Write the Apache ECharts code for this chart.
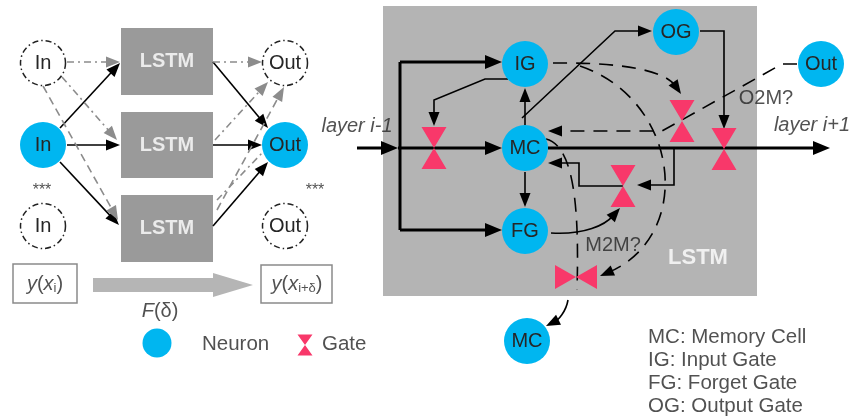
<!DOCTYPE html>
<html><head><meta charset="utf-8">
<script src="https://cdn.jsdelivr.net/npm/echarts@6/dist/echarts.min.js"></script>
<style>html,body{margin:0;padding:0;background:#fff}#c{width:855px;height:420px}</style>
</head><body><div id="c"></div>
<script>
// ---------- data (diagram coordinates in the 855 x 420 plane) ----------
const neurons = [['In',43,145],['Out',285,145],['IG',525,64],['MC',525,148],['FG',525,231],['OG',676,32],['Out',821,64],['MC',527,341]];
const ghostNeurons = [['In',43,63],['In',43,226],['Out',285,63],['Out',285,226]];
const lstmBoxes = [[121,28,213,95],[121,112,213,178],[121,195,213,262]];
const cellBox = [[383,6,757,296]];
const valueBoxes = [[13,264,77,303],[261,265,332,303]];
const gatesV = [[434,148],[682,121],[724,149],[623,186]];
const gatesH = [[576,277]];
const legendNeuron = [[157,343]];
const legendGate = [[305,345]];
const flowArrow = [[[93,285],[253,285]]];

const thinArrows = [
  [[60,128],[120,63]], [[67,145],[120,145]], [[60,162],[119,225]],
  [[213,62],[268,128]], [[213,145],[262,145]], [[213,226],[268,162]],
  [[508,79],[485,79],[434,100],[434,126]],
  [[525,125],[525,88]],
  [[522,118],[615,31],[652,31]],
  [[700,31],[724,31],[724,129]],
  [[525,172],[525,207]],
  [[623,186],[579,186],[579,163],[548,163]],
  [[674,148],[674,185],[637,185]]
];
const thinCurveArrows = [
  [[551,233],[585,235],[605,225],[620,208]],
  [[568,300],[566,312],[558,320],[546,326]]
];
const thickLines = [[[400,62],[400,230]]];
const thickArrows = [
  [[357,148],[398,148]], [[398,148],[502,148]], [[400,62],[502,62]],
  [[400,230],[502,230]], [[548,148],[830,148]]
];
const grayDashDotArrows = [
  [[67,62],[120,62]], [[62,77],[117,140]], [[213,62],[262,62]], [[215,140],[268,82]]
];
const grayDashDotLines = [[[217,200],[263,152]]];
const grayDashArrows = [[[43,86],[118,220]], [[217,210],[284,87]]];
const dashedArrows = [[[797,64],[782,64],[662,131],[548,131]]];
const dashedCurveArrows = [
  [[553,63],[640,62],[668,75],[681,94]],
  [[580,66],[680,100],[695,235],[600,276]]
];
const dashedCurves = [[[546,139],[570,145],[580,190],[577,290]]];

const italicLabels = [['layer i-1',357,126],['layer i+1',812,125]];
const plainLabels = [['O2M?',766,98],['M2M?',613,245]];
const legendLabels = [['Neuron',202,344],['Gate',322,344],['MC: Memory Cell',648,337],['IG: Input Gate',648,360],['FG: Forget Gate',648,383],['OG: Output Gate',648,406]];
const starLabels = [['***',42,191],['***',315,191]];
const cellLabel = [['LSTM',698,258]];
const mathLabels = [['{it|y}{n|(}{it|x}{sub|i}{n|)}',45,284],['{it|y}{n|(}{it|x}{sub|i+δ}{n|)}',297,284],['{it|F}{n|(δ)}',160,311]];

// ---------- rendering ----------
const FONT = 'Arial, "Liberation Sans", Helvetica, sans-serif';
const BLUE = '#00b6f0', PINK = '#f8386a', DARK = '#262626';
const chart = echarts.init(document.getElementById('c'));

function rectSeries(boxes, style, z) {
  return {
    type: 'custom', z, silent: true, animation: false,
    data: boxes.map(b => [b[0], b[1], b[2], b[3]]),
    encode: {x: [0, 2], y: [1, 3]},
    renderItem: (params, api) => {
      const p1 = api.coord([api.value(0), api.value(1)]);
      const p2 = api.coord([api.value(2), api.value(3)]);
      return {type: 'rect', shape: {x: Math.min(p1[0], p2[0]), y: Math.min(p1[1], p2[1]),
        width: Math.abs(p2[0] - p1[0]), height: Math.abs(p2[1] - p1[1])}, style: style};
    }
  };
}

function connector(paths, o) {
  return {
    type: 'custom', z: o.z || 3, silent: true, animation: false,
    data: paths.map(p => p[p.length - 1]),
    encode: {x: 0, y: 1},
    renderItem: (params, api) => {
      const pts = paths[params.dataIndex].map(p => api.coord(p));
      const n = pts.length;
      const tip = pts[n - 1], from = pts[n - 2];
      let dx = tip[0] - from[0], dy = tip[1] - from[1];
      const len = Math.hypot(dx, dy) || 1; dx /= len; dy /= len;
      const L = o.arrow ? o.al : 0, W = o.aw || 0;
      const end = [tip[0] - dx * L * 0.7, tip[1] - dy * L * 0.7];
      const style = {stroke: o.color, lineWidth: o.width, lineDash: o.dash || null, fill: null};
      const children = [];
      if (o.curve) {
        children.push({type: 'bezierCurve', shape: {x1: pts[0][0], y1: pts[0][1], cpx1: pts[1][0], cpy1: pts[1][1],
          cpx2: pts[2][0], cpy2: pts[2][1], x2: end[0], y2: end[1]}, style});
      } else {
        children.push({type: 'polyline', shape: {points: pts.slice(0, n - 1).concat([end])}, style});
      }
      if (o.arrow) {
        const bx = tip[0] - dx * L, by = tip[1] - dy * L;
        children.push({type: 'polygon', shape: {points: [tip, [bx - dy * W, by + dx * W], [bx + dy * W, by - dx * W]]},
          style: {fill: o.color}});
      }
      return {type: 'group', children};
    }
  };
}

function textSeries(items, label, z) {
  return {
    type: 'scatter', z: z || 8, silent: true, animation: false, symbolSize: 0,
    data: items.map(t => [t[1], t[2], t[0]]),
    label: Object.assign({show: true, position: 'inside', formatter: p => p.value[2],
      fontFamily: FONT, color: DARK, fontSize: 20}, label)
  };
}

const flowSeries = {
  type: 'custom', z: 2, silent: true, animation: false,
  data: flowArrow.map(a => a[1]), encode: {x: 0, y: 1},
  renderItem: (params, api) => {
    const a = flowArrow[params.dataIndex];
    const s = api.coord(a[0]), e = api.coord(a[1]);
    const hl = 40, sh = 7, hh = 12;
    return {type: 'polygon', shape: {points: [[s[0], s[1] - sh], [e[0] - hl, e[1] - sh], [e[0] - hl, e[1] - hh], e,
      [e[0] - hl, e[1] + hh], [e[0] - hl, e[1] + sh], [s[0], s[1] + sh]]}, style: {fill: '#b5b5b5'}};
  }
};

const gateV = 'path://M0,0L24,0L12,21L24,42L0,42L12,21Z';
const gateHpath = 'path://M0,0L21,12L42,0L42,24L21,12L0,24Z';

const option = {
  animation: false,
  grid: {left: 0, right: 0, top: 0, bottom: 0},
  xAxis: {type: 'value', min: 0, max: 855, show: false},
  yAxis: {type: 'value', min: 0, max: 420, inverse: true, show: false},
  series: [
    rectSeries(cellBox, {fill: '#b4b4b4'}, 1),
    rectSeries(lstmBoxes, {fill: '#9a9a9a'}, 2),
    rectSeries(valueBoxes, {fill: '#fff', stroke: '#8a8a8a', lineWidth: 1.5}, 2),
    flowSeries,
    connector(thickLines, {color: '#000', width: 3}),
    connector(thickArrows, {color: '#000', width: 3, arrow: true, al: 17, aw: 7}),
    connector(thinArrows, {color: '#000', width: 1.6, arrow: true, al: 14, aw: 5.5}),
    connector(thinCurveArrows, {color: '#000', width: 1.6, arrow: true, al: 14, aw: 5.5, curve: true}),
    connector(grayDashDotArrows, {color: '#8c8c8c', width: 1.6, dash: [7, 4, 2, 4], arrow: true, al: 14, aw: 5.5}),
    connector(grayDashDotLines, {color: '#8c8c8c', width: 1.6, dash: [7, 4, 2, 4]}),
    connector(grayDashArrows, {color: '#8c8c8c', width: 1.6, dash: [8, 5], arrow: true, al: 14, aw: 5.5}),
    connector(dashedArrows, {color: '#000', width: 1.6, dash: [14, 9], arrow: true, al: 14, aw: 5.5}),
    connector(dashedCurveArrows, {color: '#000', width: 1.6, dash: [14, 9], arrow: true, al: 14, aw: 5.5, curve: true}),
    connector(dashedCurves, {color: '#000', width: 1.6, dash: [14, 9], curve: true}),
    {type: 'scatter', z: 4, silent: true, symbol: gateV, symbolSize: [25, 42], itemStyle: {color: PINK, opacity: 1}, data: gatesV},
    {type: 'scatter', z: 4, silent: true, symbol: gateHpath, symbolSize: [42, 24], itemStyle: {color: PINK, opacity: 1}, data: gatesH},
    {type: 'scatter', z: 4, silent: true, symbol: gateV, symbolSize: [15, 21], itemStyle: {color: PINK, opacity: 1}, data: legendGate},
    {type: 'scatter', z: 5, silent: true, symbolSize: 29, itemStyle: {color: BLUE, opacity: 1}, data: legendNeuron},
    {type: 'scatter', z: 5, silent: true, symbolSize: 46, itemStyle: {color: BLUE, opacity: 1},
      data: neurons.map(n => [n[1], n[2], n[0]]),
      label: {show: true, position: 'inside', formatter: p => p.value[2], color: DARK, fontSize: 20, fontFamily: FONT}},
    {type: 'scatter', z: 5, silent: true, symbolSize: 45,
      itemStyle: {color: '#fff', borderColor: '#222', borderWidth: 1.5, borderType: [6, 3, 1.5, 3], opacity: 1},
      data: ghostNeurons.map(n => [n[1], n[2], n[0]]),
      label: {show: true, position: 'inside', formatter: p => p.value[2], color: DARK, fontSize: 20, fontFamily: FONT}},
    textSeries(lstmBoxes.map(b => ['LSTM', (b[0] + b[2]) / 2, (b[1] + b[3]) / 2]), {color: '#fff', fontWeight: 'bold'}),
    textSeries(cellLabel, {color: '#fff', fontWeight: 'bold', fontSize: 22}),
    textSeries(italicLabels, {fontStyle: 'italic'}),
    textSeries(plainLabels, {}),
    textSeries(legendLabels, {align: 'left', fontSize: 20.5}),
    textSeries(starLabels, {fontSize: 16}),
    textSeries(mathLabels, {
      rich: {
        it: {fontStyle: 'italic', fontSize: 20, fontFamily: FONT, color: DARK},
        n: {fontSize: 20, fontFamily: FONT, color: DARK},
        sub: {fontSize: 13, fontFamily: FONT, color: DARK, padding: [9, 0, 0, 0]}
      }
    })
  ]
};
chart.setOption(option);
</script>
</body></html>
